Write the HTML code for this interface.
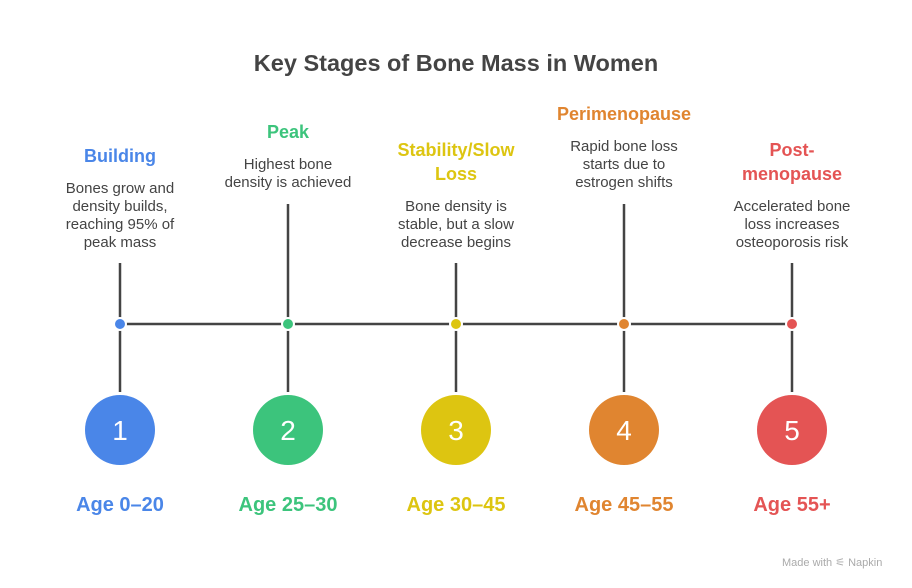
<!DOCTYPE html>
<html><head><style>
body{margin:0;width:912px;height:588px;background:#fff;font-family:"Liberation Sans",sans-serif;position:relative;overflow:hidden}
.t{position:absolute;transform:translateX(-50%);text-align:center;white-space:nowrap}
.h{font-weight:bold;font-size:18px;line-height:24px}
.b{font-size:15px;line-height:18px;color:#444}
.a{font-weight:bold;font-size:20px;line-height:24px}
</style></head><body>
<div class="t" style="left:456px;top:50px;font-weight:bold;font-size:23.5px;color:#444">Key Stages of Bone Mass in Women</div>
<svg width="912" height="588" style="position:absolute;left:0;top:0">
<g stroke="#444" stroke-width="2.5">
<line x1="120" y1="324" x2="792" y2="324"/>
<line x1="120" y1="263" x2="120" y2="392"/>
<line x1="288" y1="204" x2="288" y2="392"/>
<line x1="456" y1="263" x2="456" y2="392"/>
<line x1="624" y1="204" x2="624" y2="392"/>
<line x1="792" y1="263" x2="792" y2="392"/>
</g>
<g stroke="#fff" stroke-width="2">
<circle cx="120" cy="324" r="6" fill="#4a86e8"/>
<circle cx="288" cy="324" r="6" fill="#3cc47c"/>
<circle cx="456" cy="324" r="6" fill="#ddc511"/>
<circle cx="624" cy="324" r="6" fill="#e08530"/>
<circle cx="792" cy="324" r="6" fill="#e45454"/>
</g>
<circle cx="120" cy="430" r="35" fill="#4a86e8"/>
<circle cx="288" cy="430" r="35" fill="#3cc47c"/>
<circle cx="456" cy="430" r="35" fill="#ddc511"/>
<circle cx="624" cy="430" r="35" fill="#e08530"/>
<circle cx="792" cy="430" r="35" fill="#e45454"/>
<g fill="#fff" font-size="28" font-family="Liberation Sans" text-anchor="middle">
<text x="120" y="440">1</text><text x="288" y="440">2</text><text x="456" y="440">3</text><text x="624" y="440">4</text><text x="792" y="440">5</text>
</g>
</svg>
<div class="t h" style="left:120px;top:144px;color:#4a86e8">Building</div>
<div class="t b" style="left:120px;top:180px">Bones grow and<br>density builds,<br>reaching 95% of<br>peak mass</div>
<div class="t h" style="left:288px;top:120px;color:#3cc47c">Peak</div>
<div class="t b" style="left:288px;top:156px">Highest bone<br>density is achieved</div>
<div class="t h" style="left:456px;top:138px;color:#ddc511">Stability/Slow<br>Loss</div>
<div class="t b" style="left:456px;top:198px">Bone density is<br>stable, but a slow<br>decrease begins</div>
<div class="t h" style="left:624px;top:102px;color:#e08530">Perimenopause</div>
<div class="t b" style="left:624px;top:138px">Rapid bone loss<br>starts due to<br>estrogen shifts</div>
<div class="t h" style="left:792px;top:138px;color:#e45454">Post-<br>menopause</div>
<div class="t b" style="left:792px;top:198px">Accelerated bone<br>loss increases<br>osteoporosis risk</div>
<div class="t a" style="left:120px;top:493px;color:#4a86e8">Age 0–20</div>
<div class="t a" style="left:288px;top:493px;color:#3cc47c">Age 25–30</div>
<div class="t a" style="left:456px;top:493px;color:#ddc511">Age 30–45</div>
<div class="t a" style="left:624px;top:493px;color:#e08530">Age 45–55</div>
<div class="t a" style="left:792px;top:493px;color:#e45454">Age 55+</div>
<div style="position:absolute;left:782px;top:556px;font-size:11px;color:#aaa">Made with ⚟ Napkin</div>
</body></html>
